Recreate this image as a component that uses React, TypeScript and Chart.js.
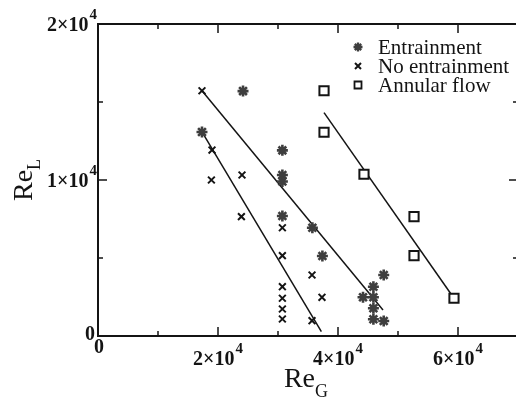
import React, { useEffect, useRef } from 'react';
import { Chart, registerables } from 'chart.js';

Chart.register(...registerables);

// ---- data (Re_G, Re_L) ----
const entrainmentX = [24170, 17330, 30730, 30730, 30730, 30730, 35730, 37400, 47620, 45900, 44170, 45900, 45900, 45900, 47620];
const entrainmentY = [15700, 13080, 11900, 10320, 9900, 7690, 6940, 5130, 3910, 3160, 2480, 2480, 1780, 1070, 960];

const noEntrainmentX = [17330, 19000, 18900, 24000, 23900, 30730, 30730, 30730, 30730, 30730, 30730, 35670, 37330, 35670];
const noEntrainmentY = [15720, 11920, 10000, 10320, 7650, 6940, 5150, 3160, 2420, 1730, 1090, 3910, 2480, 980];

const annularX = [37670, 37670, 44330, 52670, 52670, 59330];
const annularY = [15720, 13060, 10370, 7650, 5150, 2420];

// fitted boundary lines: [x0, y0, x1, y1]
const line1 = [17330, 13080, 37230, 280];
const line2 = [17330, 15720, 47500, 1670];
const line3 = [37670, 14320, 59330, 2420];

const seriesNames = ['Entrainment', 'No entrainment', 'Annular flow'];

const xMin = 0, xMax = 70000, xStep = 10000;
const yMin = 0, yMax = 20000, yStep = 5000;
const xLabelValues = [0, 20000, 40000, 60000];
const xLabelMain = ['0', '2×10', '4×10', '6×10'];
const xLabelSup = ['', '4', '4', '4'];
const yLabelValues = [0, 10000, 20000];
const yLabelMain = ['0', '1×10', '2×10'];
const yLabelSup = ['', '4', '4'];

const SERIF = '"Liberation Serif", "Times New Roman", serif';
const INK = '#141414';
const STAR = '#3e3e3e';

const pts = (xs: number[], ys: number[]) => xs.map((x, i) => ({ x, y: ys[i] }));
const seg = (l: number[]) => [{ x: l[0], y: l[1] }, { x: l[2], y: l[3] }];

function drawSupText(ctx: CanvasRenderingContext2D, main: string, sup: string, x: number, y: number, align: 'center' | 'right') {
  ctx.font = `bold 20px ${SERIF}`;
  const w1 = ctx.measureText(main).width;
  ctx.font = `bold 15px ${SERIF}`;
  const w2 = sup ? ctx.measureText(sup).width + 1 : 0;
  const total = w1 + w2;
  const left = align === 'center' ? x - total / 2 : x - total;
  ctx.textAlign = 'left';
  ctx.textBaseline = 'alphabetic';
  ctx.font = `bold 20px ${SERIF}`;
  ctx.fillText(main, left, y);
  if (sup) {
    ctx.font = `bold 15px ${SERIF}`;
    ctx.fillText(sup, left + w1 + 1, y - 12);
  }
}

function drawMarker(ctx: CanvasRenderingContext2D, kind: number, x: number, y: number) {
  ctx.save();
  ctx.beginPath();
  if (kind === 0) {
    const r = 4.5;
    ctx.strokeStyle = STAR;
    ctx.lineWidth = 2.3;
    for (let k = 0; k < 4; k++) {
      const a = (k * Math.PI) / 4;
      ctx.moveTo(x - Math.cos(a) * r, y - Math.sin(a) * r);
      ctx.lineTo(x + Math.cos(a) * r, y + Math.sin(a) * r);
    }
    ctx.stroke();
  } else if (kind === 1) {
    const r = 3;
    ctx.strokeStyle = INK;
    ctx.lineWidth = 2;
    ctx.moveTo(x - r, y - r); ctx.lineTo(x + r, y + r);
    ctx.moveTo(x + r, y - r); ctx.lineTo(x - r, y + r);
    ctx.stroke();
  } else {
    ctx.fillStyle = '#fff';
    ctx.strokeStyle = INK;
    ctx.lineWidth = 1.8;
    ctx.rect(x - 3.5, y - 3.5, 7, 7);
    ctx.fill();
    ctx.stroke();
  }
  ctx.restore();
}

const decorPlugin = {
  id: 'decor',
  afterDraw(chart: any) {
    const { ctx, chartArea: a, scales } = chart;
    const x = scales.x, y = scales.y;
    ctx.save();
    // frame
    ctx.strokeStyle = INK;
    ctx.lineWidth = 2;
    ctx.strokeRect(a.left, a.top, a.right - a.left, a.bottom - a.top);
    // inward ticks
    ctx.lineWidth = 1.5;
    ctx.beginPath();
    x.ticks.forEach((t: any) => {
      const px = x.getPixelForValue(t.value);
      const len = t.value % 20000 === 0 ? 9 : 5;
      ctx.moveTo(px, a.bottom); ctx.lineTo(px, a.bottom - len);
      ctx.moveTo(px, a.top); ctx.lineTo(px, a.top + len);
    });
    y.ticks.forEach((t: any) => {
      const py = y.getPixelForValue(t.value);
      const len = t.value % 10000 === 0 ? 9 : 5;
      ctx.moveTo(a.left, py); ctx.lineTo(a.left + len, py);
      ctx.moveTo(a.right, py); ctx.lineTo(a.right - len, py);
    });
    ctx.stroke();

    // tick labels
    ctx.fillStyle = INK;
    xLabelValues.forEach((v, i) => {
      const px = x.getPixelForValue(v);
      if (v === 0) drawSupText(ctx, xLabelMain[i], xLabelSup[i], px + 1, a.bottom + 17, 'center');
      else drawSupText(ctx, xLabelMain[i], xLabelSup[i], px, a.bottom + 29, 'center');
    });
    yLabelValues.forEach((v, i) => {
      const py = y.getPixelForValue(v);
      if (v === 0) drawSupText(ctx, yLabelMain[i], yLabelSup[i], a.left - 3, py + 4, 'right');
      else drawSupText(ctx, yLabelMain[i], yLabelSup[i], a.left - 1, py + 7, 'right');
    });

    // axis titles
    ctx.textAlign = 'left';
    ctx.textBaseline = 'alphabetic';
    ctx.font = `28px ${SERIF}`;
    const wRe = ctx.measureText('Re').width;
    ctx.font = `18px ${SERIF}`;
    const wG = ctx.measureText('G').width;
    const cx = (a.left + a.right) / 2 - 2;
    const gl = cx - (wRe + wG) / 2;
    ctx.font = `28px ${SERIF}`;
    ctx.fillText('Re', gl, a.bottom + 51);
    ctx.font = `18px ${SERIF}`;
    ctx.fillText('G', gl + wRe, a.bottom + 61);

    ctx.save();
    ctx.translate(32, (a.top + a.bottom) / 2 + 21);
    ctx.rotate(-Math.PI / 2);
    ctx.font = `28px ${SERIF}`;
    const wRe2 = ctx.measureText('Re').width;
    ctx.fillText('Re', 0, 0);
    ctx.font = `18px ${SERIF}`;
    ctx.fillText('L', wRe2, 8);
    ctx.restore();

    // legend
    const lx = a.left + 260;
    const rows = [a.top + 23, a.top + 42, a.top + 61];
    seriesNames.forEach((name, i) => {
      drawMarker(ctx, i, lx, rows[i]);
      ctx.fillStyle = INK;
      ctx.font = `21px ${SERIF}`;
      ctx.textAlign = 'left';
      ctx.textBaseline = 'alphabetic';
      ctx.fillText(name, lx + 20, rows[i] + 7);
    });
    ctx.restore();
  },
};

export default function App() {
  const ref = useRef<HTMLCanvasElement | null>(null);
  useEffect(() => {
    if (!ref.current) return;
    const lineDs = (l: number[]) => ({
      type: 'scatter' as const,
      data: seg(l),
      showLine: true,
      pointRadius: 0,
      borderColor: INK,
      borderWidth: 1.5,
      fill: false,
    });
    const chart = new Chart(ref.current, {
      type: 'scatter',
      data: {
        datasets: [
          {
            label: seriesNames[0],
            data: pts(entrainmentX, entrainmentY),
            pointStyle: 'star',
            pointRadius: 5.5,
            borderColor: STAR,
            backgroundColor: STAR,
            borderWidth: 2.6,
          },
          {
            label: seriesNames[1],
            data: pts(noEntrainmentX, noEntrainmentY),
            pointStyle: 'crossRot',
            pointRadius: 4.8,
            borderColor: INK,
            backgroundColor: INK,
            borderWidth: 2,
          },
          {
            label: seriesNames[2],
            data: pts(annularX, annularY),
            pointStyle: 'rect',
            pointRadius: 6.5,
            borderColor: INK,
            backgroundColor: '#ffffff',
            borderWidth: 2,
          },
          lineDs(line1) as any,
          lineDs(line2) as any,
          lineDs(line3) as any,
        ],
      },
      options: {
        responsive: false,
        animation: false,
        layout: { padding: { left: 98, right: 12, top: 24, bottom: 65 } },
        plugins: { legend: { display: false }, tooltip: { enabled: false } },
        scales: {
          x: {
            type: 'linear',
            min: xMin,
            max: xMax,
            ticks: { display: false, stepSize: xStep },
            grid: { display: false, drawTicks: false },
            border: { display: false },
            afterFit: (s: any) => { s.height = 0; },
          },
          y: {
            type: 'linear',
            min: yMin,
            max: yMax,
            ticks: { display: false, stepSize: yStep },
            grid: { display: false, drawTicks: false },
            border: { display: false },
            afterFit: (s: any) => { s.width = 0; },
          },
        },
      },
      plugins: [decorPlugin],
    });
    return () => chart.destroy();
  }, []);
  return (
    <div style={{ position: 'absolute', left: 0, top: 0, width: 516, height: 401, overflow: 'hidden', background: '#fff' }}>
      <canvas ref={ref} width={530} height={401} style={{ display: 'block', width: 530, height: 401 }} />
    </div>
  );
}
